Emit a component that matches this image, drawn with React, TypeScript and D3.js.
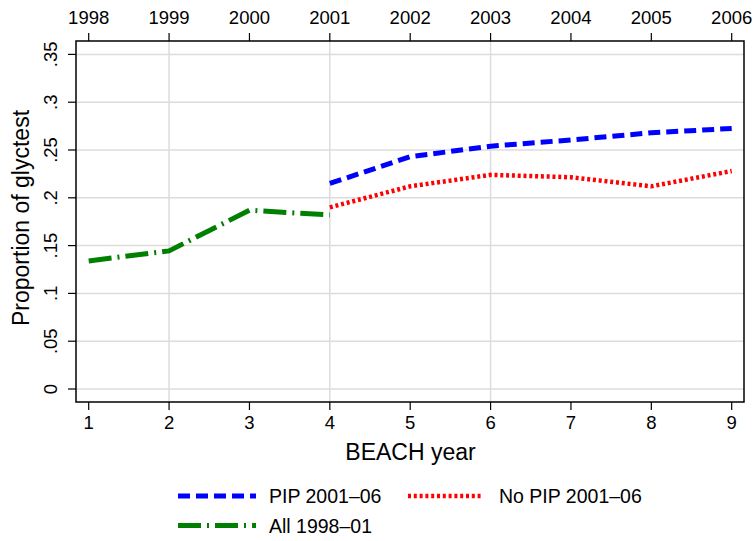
import React from "react";
import * as d3 from "d3";

const beachYears = [1, 2, 3, 4, 5, 6, 7, 8, 9];
const calendarYears = ["1998", "1999", "2000", "2001", "2002", "2003", "2004", "2005", "2006"];
const yTicks = [0, 0.05, 0.1, 0.15, 0.2, 0.25, 0.3, 0.35];
const yTickLabels = ["0", ".05", ".1", ".15", ".2", ".25", ".3", ".35"];
const xGrid = [2, 4, 6];

const allYears = [1, 2, 3, 4];
const allValues = [0.134, 0.1445, 0.187, 0.182];
const pipYears = [4, 5, 6, 7, 8, 9];
const pipValues = [0.215, 0.243, 0.254, 0.2605, 0.268, 0.2725];
const noPipYears = [4, 5, 6, 7, 8, 9];
const noPipValues = [0.19, 0.212, 0.224, 0.2215, 0.212, 0.228];

const W = 755;
const H = 541;
const L = 76, R = 744, T = 41, B = 402;
const FONT = "'Liberation Sans', Arial, Helvetica, sans-serif";

export default function App() {
  const x = d3.scaleLinear().domain([1, 9]).range([88.7, 731.7]);
  const y = d3.scaleLinear().domain([0, 0.35]).range([389, 54.4]);
  const line = d3.line<[number, number]>().x(d => x(d[0])).y(d => y(d[1]));
  const pts = (xs: number[], vs: number[]) => xs.map((v, i) => [v, vs[i]] as [number, number]);

  const blue = { stroke: "#0000ff", strokeWidth: 5, dash: "12 6" };
  const red = { stroke: "#ff0000", strokeWidth: 4.5, dash: "3 2.8" };
  const green = { stroke: "#008000", strokeWidth: 5, dash: "23 6 2 6" };

  return (
    <svg width={W} height={H} style={{ position: "absolute", left: 0, top: 0 }} fontFamily={FONT}>
      <rect x={0} y={0} width={W} height={H} fill="#fff" />
      {/* grid */}
      {yTicks.map(t => (
        <line key={"gy" + t} x1={L} x2={R} y1={y(t)} y2={y(t)} stroke="#dcdcdc" strokeWidth={1.5} />
      ))}
      {xGrid.map(t => (
        <line key={"gx" + t} x1={x(t)} x2={x(t)} y1={T} y2={B} stroke="#dcdcdc" strokeWidth={1.5} />
      ))}
      {/* lines */}
      <path d={line(pts(allYears, allValues)) || ""} fill="none" stroke={green.stroke} strokeWidth={green.strokeWidth} strokeDasharray={green.dash} />
      <path d={line(pts(noPipYears, noPipValues)) || ""} fill="none" stroke={red.stroke} strokeWidth={red.strokeWidth} strokeDasharray={red.dash} />
      <path d={line(pts(pipYears, pipValues)) || ""} fill="none" stroke={blue.stroke} strokeWidth={blue.strokeWidth} strokeDasharray={blue.dash} />
      {/* frame */}
      <rect x={L} y={T} width={R - L} height={B - T} fill="none" stroke="#000" strokeWidth={1.5} />
      {/* y axis */}
      {yTicks.map((t, i) => (
        <g key={"yt" + t}>
          <line x1={L - 8} x2={L} y1={y(t)} y2={y(t)} stroke="#000" strokeWidth={1.2} />
          <text transform={`translate(${57},${y(t)}) rotate(-90)`} textAnchor="middle" fontSize={18.5} fill="#000">{yTickLabels[i]}</text>
        </g>
      ))}
      {/* bottom axis */}
      {beachYears.map(t => (
        <g key={"bx" + t}>
          <line x1={x(t)} x2={x(t)} y1={B} y2={B + 8} stroke="#000" strokeWidth={1.2} />
          <text x={x(t)} y={429} textAnchor="middle" fontSize={18.5} fill="#000">{t}</text>
        </g>
      ))}
      {/* top axis */}
      {beachYears.map((t, i) => (
        <g key={"tx" + t}>
          <line x1={x(t)} x2={x(t)} y1={T - 8} y2={T} stroke="#000" strokeWidth={1.2} />
          <text x={x(t)} y={24} textAnchor="middle" fontSize={18.5} fill="#000">{calendarYears[i]}</text>
        </g>
      ))}
      <text x={410.5} y={460} textAnchor="middle" fontSize={23} fill="#000">BEACH year</text>
      <text transform={`translate(28.5,218) rotate(-90)`} textAnchor="middle" fontSize={23} fill="#000">Proportion of glyctest</text>
      {/* legend */}
      <line x1={178} x2={256} y1={496} y2={496} stroke={blue.stroke} strokeWidth={blue.strokeWidth} strokeDasharray={blue.dash} />
      <text x={269} y={503} fontSize={19.5} fill="#000">PIP 2001–06</text>
      <line x1={408} x2={483} y1={496} y2={496} stroke={red.stroke} strokeWidth={red.strokeWidth} strokeDasharray={red.dash} />
      <text x={499} y={503} fontSize={19.5} fill="#000">No PIP 2001–06</text>
      <line x1={178} x2={256} y1={525.5} y2={525.5} stroke={green.stroke} strokeWidth={green.strokeWidth} strokeDasharray={green.dash} />
      <text x={269} y={532.5} fontSize={19.5} fill="#000">All 1998–01</text>
    </svg>
  );
}
